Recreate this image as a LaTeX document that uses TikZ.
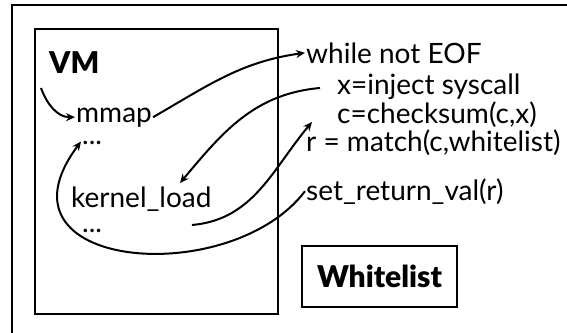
\documentclass[tikz,border=0pt]{standalone}
\usepackage{fontspec}
\setmainfont{Lato}
\newfontfamily\heavyfont{Lato Black}
\usepackage{tikz}
\usetikzlibrary{arrows.meta}

\tikzset{
  txt/.style={anchor=base west, inner sep=1pt, font=\fontsize{28}{32}\selectfont},
  dots/.style={txt, text height=5pt, text depth=0pt},
  heavy/.style={font=\fontsize{30}{32}\heavyfont},
  frame/.style={draw, line width=1.4pt},
  flow/.style={-{Stealth[length=9pt,width=8pt]}, line width=2pt}
}

\begin{document}
\begin{tikzpicture}[x=1pt,y=1pt]
	\useasboundingbox (0,0) rectangle (567,-332);
	\clip (0,0) rectangle (567,-332);
	\draw[frame] (12,-5) rectangle (600,-360);
	\draw[frame] (35,-29) rectangle (278,-314);
	
	% vm side
	\node[txt, heavy] (vm) at (48,-73) {VM};
	\node[txt] (mmap) at (75,-122) {mmap};
	\node[dots] (dotsA) at (81,-144) {...};
	\node[txt] (kload) at (70,-207) {kernel\_load};
	\node[dots] (dotsB) at (81,-232) {...};
	
	% loop
	\node[txt] (loop) at (305,-63) {while not EOF};
	\node[txt] (inject) at (336,-94) {x=inject syscall};
	\node[txt] (csum) at (336,-123) {c=checksum(c,x)};
	\node[txt] (match) at (305,-151) {r = match(c,whitelist)};
	\node[txt] (setret) at (305,-200) {set\_return\_val(r)};
	
	\node[frame, heavy, minimum width=155pt, minimum height=61pt] (wl) at (379.5,-276.5) {Whitelist};
	
	\coordinate (vmin) at (41,-88);
	\coordinate (injl) at (320,-88);
	\coordinate (kin) at (180,-183);
	\coordinate (kout) at (192,-225);
	\coordinate (csin) at (312,-122);
	
	\draw[flow] (vmin) to[out=-70, in=180] (mmap.west);
	\draw[flow] (mmap.east) to[out=30, in=188] (loop.west);
	\draw[flow] (injl) to[out=185, in=50] (kin);
	\draw[flow] (kout) to[out=5, in=-130] (csin);
	\draw[flow] (setret.west) .. controls (230,-290) and (-15,-270) .. (dotsA.west);
\end{tikzpicture}
\end{document}
